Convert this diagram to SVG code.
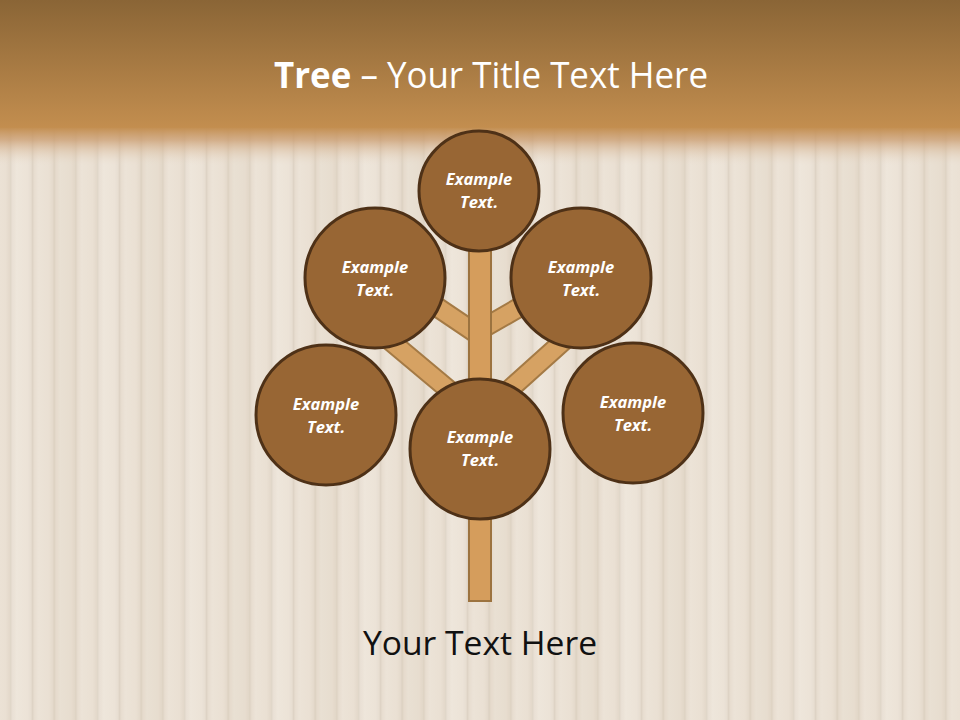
<svg xmlns="http://www.w3.org/2000/svg" width="960" height="720" viewBox="0 0 960 720">
  <defs>
    <linearGradient id="banner" x1="0" y1="0" x2="0" y2="1">
      <stop offset="0" stop-color="#8A6536"/>
      <stop offset="1" stop-color="#C38E4F"/>
    </linearGradient>
    <linearGradient id="fade" x1="0" y1="0" x2="0" y2="1">
      <stop offset="0" stop-color="#C38E4F" stop-opacity="1"/>
      <stop offset="0.35" stop-color="#C9996A" stop-opacity="0.7"/>
      <stop offset="1" stop-color="#E6D7C4" stop-opacity="0"/>
    </linearGradient>
    <linearGradient id="plankShade" x1="0" y1="0" x2="1" y2="0">
      <stop offset="0" stop-color="#E4D9CB"/>
      <stop offset="0.3" stop-color="#ECE3D7"/>
      <stop offset="0.8" stop-color="#EAE0D3"/>
      <stop offset="1" stop-color="#E3D8CA"/>
    </linearGradient>
    <pattern id="wood" x="10" y="0" width="21.75" height="720" patternUnits="userSpaceOnUse">
      <rect x="0" y="0" width="21.75" height="720" fill="url(#plankShade)"/>
      <rect x="0" y="0" width="1.4" height="720" fill="#DDD2C3"/>
    </pattern>
    <pattern id="woodTone" x="10" y="0" width="87" height="720" patternUnits="userSpaceOnUse">
      <rect x="0" y="0" width="21.75" height="720" fill="#FFFFFF" opacity="0.10"/>
      <rect x="43.5" y="0" width="21.75" height="720" fill="#C8B8A4" opacity="0.07"/>
    </pattern>
    <style>
      .node circle { fill: #986634; stroke: #4E3117; stroke-width: 3; }
      .node text { font-family: "Open Sans", "Liberation Sans", sans-serif; font-size: 16.5px; font-weight: bold; font-style: italic; fill: #FFFFFF; text-anchor: middle; }
      .branch-out { stroke: #A47A45; stroke-width: 21; fill: none; }
      .branch-in { stroke: #D6A263; stroke-width: 17; fill: none; }
    </style>
  </defs>

  <!-- background -->
  <rect x="0" y="0" width="960" height="720" fill="url(#wood)"/>
  <rect x="0" y="0" width="960" height="720" fill="url(#woodTone)"/>
  <rect x="0" y="0" width="960" height="128" fill="url(#banner)"/>
  <rect x="0" y="127" width="960" height="38" fill="url(#fade)"/>

  <text x="274" y="88" textLength="434" lengthAdjust="spacingAndGlyphs" font-family="Open Sans, Liberation Sans, sans-serif" font-size="36" fill="#FFFFFF"><tspan font-weight="bold">Tree</tspan> – Your Title Text Here</text>

  <g id="connectors">
    <path class="branch-out" d="M480,336 L397,280 M480,330 L567,280 M480,416 L388,339 M480,416 L569,336"/>
    <path class="branch-in" d="M480,336 L397,280 M480,330 L567,280 M480,416 L388,339 M480,416 L569,336"/>
    <rect id="trunk" x="469" y="240" width="22" height="361" fill="#D59D5C" stroke="#9C733F" stroke-width="2"/>
  </g>

  <g id="node-top" class="node">
    <circle cx="479" cy="191" r="60"/>
    <text x="479" y="185">Example</text>
    <text x="479" y="208">Text.</text>
  </g>
  <g id="node-upper-left" class="node">
    <circle cx="375" cy="278" r="70"/>
    <text x="375" y="273">Example</text>
    <text x="375" y="296">Text.</text>
  </g>
  <g id="node-upper-right" class="node">
    <circle cx="581" cy="278" r="70"/>
    <text x="581" y="273">Example</text>
    <text x="581" y="296">Text.</text>
  </g>
  <g id="node-lower-left" class="node">
    <circle cx="326" cy="415" r="70"/>
    <text x="326" y="410">Example</text>
    <text x="326" y="433">Text.</text>
  </g>
  <g id="node-center" class="node">
    <circle cx="480" cy="449" r="70"/>
    <text x="480" y="443">Example</text>
    <text x="480" y="466">Text.</text>
  </g>
  <g id="node-lower-right" class="node">
    <circle cx="633" cy="413" r="70"/>
    <text x="633" y="408">Example</text>
    <text x="633" y="431">Text.</text>
  </g>

  <text x="363" y="655" textLength="234" lengthAdjust="spacingAndGlyphs" font-family="Open Sans, Liberation Sans, sans-serif" font-size="33" fill="#111111">Your Text Here</text>
</svg>
